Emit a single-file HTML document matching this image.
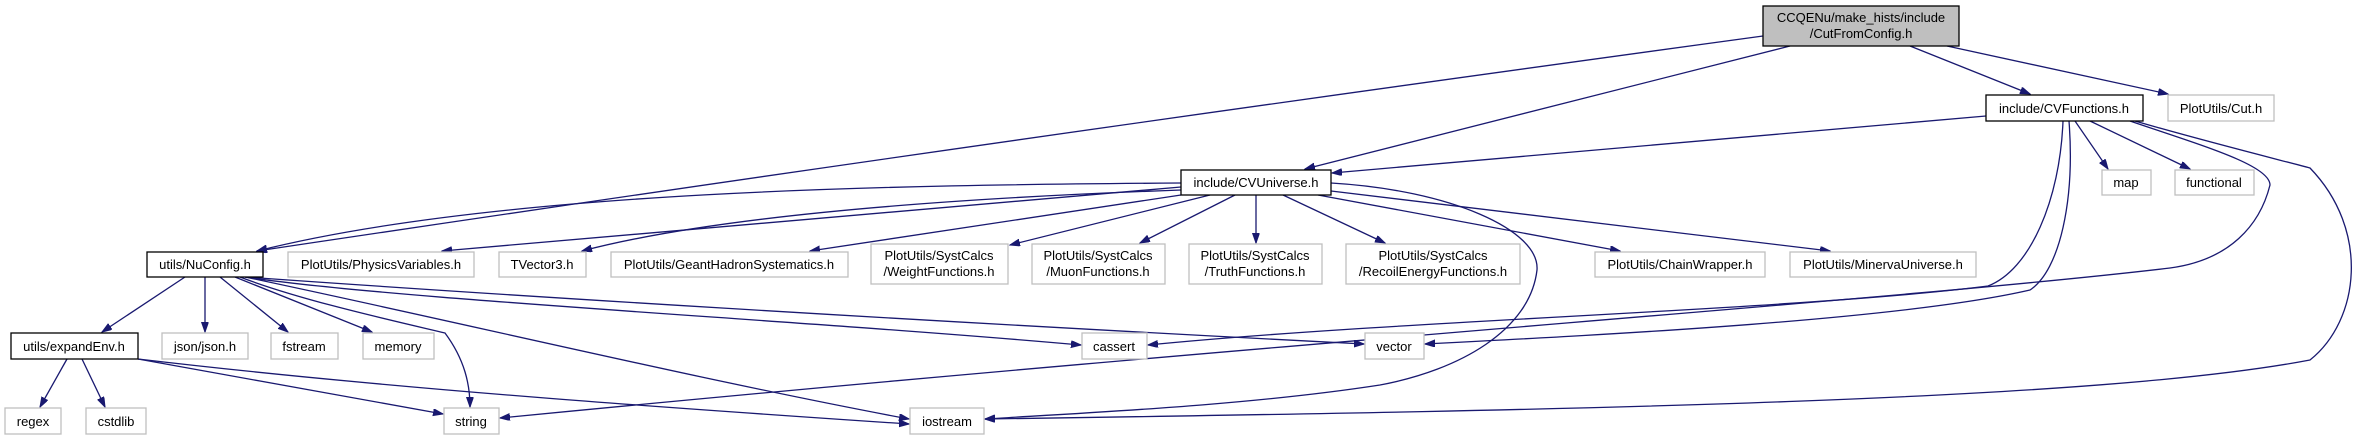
<!DOCTYPE html>
<html><head><meta charset="utf-8"><style>
html,body{margin:0;padding:0;background:#fff;}
svg{display:block;}
text{font-family:"Liberation Sans",Arial,sans-serif;font-size:13px;fill:#000;text-anchor:middle;}
.e{fill:none;stroke:#191970;stroke-width:1.3;marker-end:url(#a);}
.g{fill:#fff;stroke:#bfbfbf;stroke-width:1.3;}
.b{fill:#fff;stroke:#000;stroke-width:1.3;}
</style></head><body>
<svg width="2356" height="440" viewBox="0 0 2356 440" xmlns="http://www.w3.org/2000/svg">
<defs><marker id="a" markerUnits="userSpaceOnUse" markerWidth="11" markerHeight="8" refX="10" refY="3.5" orient="auto"><path d="M0,0 L10,3.5 L0,7 z" fill="#191970" stroke="#191970"/></marker></defs>

<!-- edges -->
<path class="e" d="M1763,36 Q1000,140 257,251"/>
<path class="e" d="M1790,46 L1305,169"/>
<path class="e" d="M1910,46 L2030,94"/>
<path class="e" d="M1947,46 L2168,94"/>
<path class="e" d="M1986,116 L1332,173"/>
<path class="e" d="M2075,121 L2108,169"/>
<path class="e" d="M2090,121 L2190,169"/>
<path class="e" d="M2063,121 C2060,200 2030,270 1988,286 C1800,310 1400,320 1148,345"/>
<path class="e" d="M2069,121 C2075,200 2060,270 2030,290 C1900,320 1600,335 1425,344"/>
<path class="e" d="M2130,121 C2200,145 2270,165 2270,185 C2260,225 2230,260 2170,268 C1900,300 1300,340 500,418"/>
<path class="e" d="M2135,121 C2200,140 2280,160 2310,168 C2370,230 2360,320 2310,360 C2100,400 1600,410 985,419"/>
<path class="e" d="M1181,183 C900,185 500,190 257,251"/>
<path class="e" d="M1181,187 L442,251"/>
<path class="e" d="M1181,190 C900,200 700,220 582,251"/>
<path class="e" d="M1181,195 L810,251"/>
<path class="e" d="M1210,195 L1010,245"/>
<path class="e" d="M1235,195 L1140,243"/>
<path class="e" d="M1256,195 L1256,243"/>
<path class="e" d="M1283,195 L1385,243"/>
<path class="e" d="M1318,195 L1620,251"/>
<path class="e" d="M1331,191 L1830,251"/>
<path class="e" d="M1331,183 C1450,190 1540,230 1537,270 C1530,330 1460,370 1380,385 C1250,405 1100,412 985,419"/>
<path class="e" d="M185,277 L102,332"/>
<path class="e" d="M205,277 L205,332"/>
<path class="e" d="M220,277 L288,332"/>
<path class="e" d="M235,277 L372,332"/>
<path class="e" d="M240,277 C300,300 390,320 445,333 C465,360 470,385 470,407"/>
<path class="e" d="M245,277 C400,300 800,320 1081,345"/>
<path class="e" d="M245,277 C500,295 900,320 1364,344"/>
<path class="e" d="M245,277 C450,320 700,380 909,419"/>
<path class="e" d="M67,359 L40,407"/>
<path class="e" d="M82,359 L105,407"/>
<path class="e" d="M138,359 L443,414"/>
<path class="e" d="M138,359 C400,390 700,410 909,424"/>

<!-- nodes -->
<rect x="1763" y="6" width="196" height="40" fill="#bfbfbf" stroke="#000" stroke-width="1.3"/>
<text x="1861" y="22">CCQENu/make_hists/include</text><text x="1861" y="38">/CutFromConfig.h</text>

<rect class="b" x="1986" y="95" width="157" height="26"/><text x="2064" y="113">include/CVFunctions.h</text>
<rect class="g" x="2168" y="95" width="106" height="26"/><text x="2221" y="113">PlotUtils/Cut.h</text>

<rect class="b" x="1181" y="170" width="150" height="25"/><text x="1256" y="187">include/CVUniverse.h</text>
<rect class="g" x="2102" y="170" width="49" height="25"/><text x="2126" y="187">map</text>
<rect class="g" x="2175" y="170" width="79" height="25"/><text x="2214" y="187">functional</text>

<rect class="b" x="147" y="252" width="116" height="25"/><text x="205" y="269">utils/NuConfig.h</text>
<rect class="g" x="288" y="252" width="186" height="25"/><text x="381" y="269">PlotUtils/PhysicsVariables.h</text>
<rect class="g" x="499" y="252" width="87" height="25"/><text x="542" y="269">TVector3.h</text>
<rect class="g" x="611" y="252" width="237" height="25"/><text x="729" y="269">PlotUtils/GeantHadronSystematics.h</text>
<rect class="g" x="871" y="244" width="137" height="40"/><text x="939" y="260">PlotUtils/SystCalcs</text><text x="939" y="276">/WeightFunctions.h</text>
<rect class="g" x="1032" y="244" width="133" height="40"/><text x="1098" y="260">PlotUtils/SystCalcs</text><text x="1098" y="276">/MuonFunctions.h</text>
<rect class="g" x="1189" y="244" width="133" height="40"/><text x="1255" y="260">PlotUtils/SystCalcs</text><text x="1255" y="276">/TruthFunctions.h</text>
<rect class="g" x="1346" y="244" width="174" height="40"/><text x="1433" y="260">PlotUtils/SystCalcs</text><text x="1433" y="276">/RecoilEnergyFunctions.h</text>
<rect class="g" x="1595" y="252" width="170" height="25"/><text x="1680" y="269">PlotUtils/ChainWrapper.h</text>
<rect class="g" x="1790" y="252" width="186" height="25"/><text x="1883" y="269">PlotUtils/MinervaUniverse.h</text>

<rect class="b" x="11" y="333" width="127" height="26"/><text x="74" y="351">utils/expandEnv.h</text>
<rect class="g" x="162" y="333" width="86" height="26"/><text x="205" y="351">json/json.h</text>
<rect class="g" x="271" y="333" width="67" height="26"/><text x="304" y="351">fstream</text>
<rect class="g" x="363" y="333" width="71" height="26"/><text x="398" y="351">memory</text>
<rect class="g" x="1082" y="333" width="65" height="26"/><text x="1114" y="351">cassert</text>
<rect class="g" x="1365" y="333" width="59" height="26"/><text x="1394" y="351">vector</text>

<rect class="g" x="5" y="408" width="56" height="26"/><text x="33" y="426">regex</text>
<rect class="g" x="86" y="408" width="60" height="26"/><text x="116" y="426">cstdlib</text>
<rect class="g" x="444" y="408" width="55" height="26"/><text x="471" y="426">string</text>
<rect class="g" x="910" y="408" width="74" height="26"/><text x="947" y="426">iostream</text>
</svg>
</body></html>
